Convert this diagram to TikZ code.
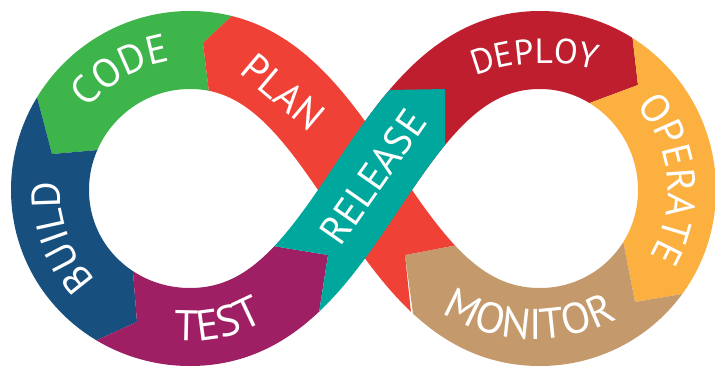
\documentclass[tikz,border=0pt]{standalone}
\usepackage{fontspec}
\setmainfont{PT Sans}
\usetikzlibrary{positioning,calc,decorations.text}
\definecolor{plancol}{HTML}{EF4136}
\definecolor{codecol}{HTML}{3DB54A}
\definecolor{buildcol}{HTML}{17507F}
\definecolor{testcol}{HTML}{9E1F63}
\definecolor{releasecol}{HTML}{00A79D}
\definecolor{deploycol}{HTML}{BE1E2D}
\definecolor{operatecol}{HTML}{FBB040}
\definecolor{monitorcol}{HTML}{C49A6C}
\tikzstyle{band} = [line width=78pt]
\tikzstyle{lbl} = [text=white, font=\fontsize{40}{42}\selectfont, inner sep=0pt]
\tikzstyle{arclbl} = [decorate, decoration={text along path, text align=center}]
\newcommand{\lblfont}{\color{white}\fontsize{40}{42}\selectfont}
\newcommand{\biglblfont}{\color{white}\fontsize{43}{45}\selectfont}
% centre lines of the two loops and of the two crossing strands
\newcommand{\leftloop}{(365,190) .. controls (315,115) and (270,50) .. (190,50) .. controls (113,50) and (50,113) .. (50,190) .. controls (50,267) and (113,327) .. (190,327) .. controls (270,327) and (315,265) .. (365,190)}
\newcommand{\rightloop}{(365,190) .. controls (415,115) and (460,50) .. (540,50) .. controls (615,50) and (677,113) .. (677,190) .. controls (677,267) and (615,327) .. (540,327) .. controls (460,327) and (415,265) .. (365,190)}
\newcommand{\planstrand}{(540,327) .. controls (460,327) and (415,265) .. (365,190) .. controls (315,115) and (270,50) .. (190,50)}
\newcommand{\releasestrand}{(190,327) .. controls (270,327) and (315,265) .. (365,190) .. controls (415,115) and (460,50) .. (540,50)}
\begin{document}
\begin{tikzpicture}[x=1pt,y=-1pt]
	\useasboundingbox (0,0) rectangle (715,367);
	\coordinate (holeL) at (190,190);
	\coordinate (holeR) at (540,190);
	\coordinate (topR) at (545,255);
	\coordinate (botR) at (535,160);

	% left loop
	\begin{scope}
		\clip (holeL) -- (213,125) -- (203,43) -- (270,-20) -- (-50,-50) -- (22,40) -- (52,154) -- (144,146) -- cycle;
		\draw[band, codecol] \leftloop;
	\end{scope}
	\begin{scope}
		\clip (holeL) -- (144,146) -- (52,154) -- (22,40) -- (-50,40) -- (-50,420) -- (57,358) -- (137,322) -- (129,222) -- cycle;
		\draw[band, buildcol] \leftloop;
	\end{scope}
	\begin{scope}
		\clip (holeL) -- (129,222) -- (137,322) -- (57,358) -- (57,420) -- (330,420) -- (314,345) -- (328,255) -- (218,237) -- cycle;
		\draw[band, testcol] \leftloop;
	\end{scope}

	% right loop
	\begin{scope}
		\clip (holeR) -- (560,114) -- (638,85) -- (626,-19) -- (330,-30) -- (330,190) -- cycle;
		\draw[band, deploycol] \rightloop;
	\end{scope}
	\begin{scope}
		\clip (holeR) -- (560,114) -- (638,85) -- (626,-19) -- (760,-19) -- (741,284) -- (635,302) -- (618,215) -- cycle;
		\draw[band, operatecol] \rightloop;
	\end{scope}
	\begin{scope}
		\clip (holeR) -- (618,215) -- (635,302) -- (741,284) -- (760,420) -- (380,420) -- (418,350) -- (405,255) -- (511,235) -- cycle;
		\draw[band, monitorcol] \rightloop;
	\end{scope}

	% crossing strands
	\begin{scope}
		\clip (270,-20) -- (203,43) -- (213,125) -- (150,400) -- (418,380) -- (405,255) -- (510,235) -- (560,-20) -- cycle;
		\draw[band, plancol] \planstrand;
	\end{scope}
	\begin{scope}
		\clip (218,237) -- (328,255) -- (314,345) -- (450,400) -- (445,145) -- (445,89) -- (390,90) -- cycle;
		\draw[band, releasecol] \releasestrand;
	\end{scope}

	% labels
	\node[lbl, rotate=-40] (plan) at (283,92) {PLAN};
	\node[lbl, rotate=55] (release) at (373,177) {RELEASE};
	\path[arclbl, decoration={text={|\lblfont|CODE}}] ($(holeL)+(-165:130)$) arc[start angle=-165, end angle=-75, radius=130];
	\path[arclbl, decoration={text={|\lblfont|BUILD}}] ($(holeL)+(115:130)$) arc[start angle=115, end angle=205, radius=130];
	\path[arclbl, decoration={text={|\biglblfont|TEST}}] ($(holeL)+(120:151)$) arc[start angle=120, end angle=36, radius=151];
	\path[arclbl, decoration={text={|\color{white}\fontsize{35}{37}\selectfont|DEPLOY}}] ($(topR)+(227:192)$) arc[start angle=227, end angle=307, radius=192];
	\path[arclbl, decoration={text={|\lblfont|OPERATE}}] ($(holeR)+(-45:128)$) arc[start angle=-45, end angle=35, radius=128];
	\path[arclbl, decoration={text={|\biglblfont|MONITOR}}] ($(botR)+(137:179)$) arc[start angle=137, end angle=47, radius=179];
\end{tikzpicture}
\end{document}
